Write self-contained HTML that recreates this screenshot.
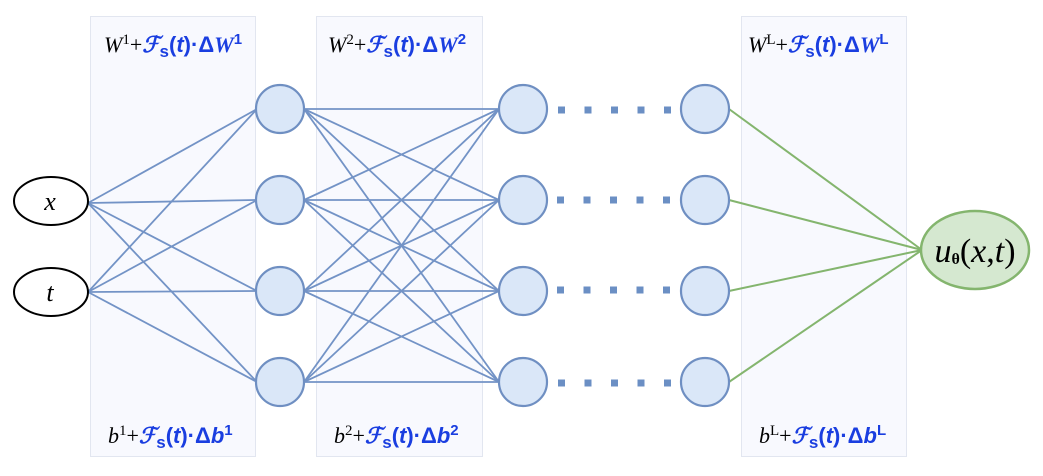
<!DOCTYPE html>
<html><head><meta charset="utf-8"><style>
body{margin:0;background:#fff;width:1043px;height:471px;overflow:hidden}
svg text{font-family:"Liberation Serif",serif}
</style></head><body>
<svg width="1043" height="471" xmlns="http://www.w3.org/2000/svg">
<rect x="90.5" y="16.5" width="165" height="440" fill="#f8f9fe" stroke="#e2e6f0"/>
<rect x="316.5" y="16.5" width="166" height="440" fill="#f8f9fe" stroke="#e2e6f0"/>
<rect x="741.5" y="16.5" width="165" height="440" fill="#f8f9fe" stroke="#e2e6f0"/>
<g stroke="#7393c6" stroke-width="1.8">
<line x1="88" y1="203" x2="257" y2="109"/><line x1="88" y1="203" x2="257" y2="200"/><line x1="88" y1="203" x2="257" y2="291"/><line x1="88" y1="203" x2="257" y2="382"/>
<line x1="88" y1="292" x2="257" y2="109"/><line x1="88" y1="292" x2="257" y2="200"/><line x1="88" y1="292" x2="257" y2="291"/><line x1="88" y1="292" x2="257" y2="382"/>
<line x1="304" y1="109" x2="499" y2="109"/><line x1="304" y1="109" x2="499" y2="200"/><line x1="304" y1="109" x2="499" y2="291"/><line x1="304" y1="109" x2="499" y2="382"/>
<line x1="304" y1="200" x2="499" y2="109"/><line x1="304" y1="200" x2="499" y2="200"/><line x1="304" y1="200" x2="499" y2="291"/><line x1="304" y1="200" x2="499" y2="382"/>
<line x1="304" y1="291" x2="499" y2="109"/><line x1="304" y1="291" x2="499" y2="200"/><line x1="304" y1="291" x2="499" y2="291"/><line x1="304" y1="291" x2="499" y2="382"/>
<line x1="304" y1="382" x2="499" y2="109"/><line x1="304" y1="382" x2="499" y2="200"/><line x1="304" y1="382" x2="499" y2="291"/><line x1="304" y1="382" x2="499" y2="382"/>
</g>
<g stroke="#84b56e" stroke-width="2">
<line x1="729" y1="109" x2="922" y2="250"/><line x1="729" y1="200" x2="922" y2="250"/><line x1="729" y1="291" x2="922" y2="250"/><line x1="729" y1="382" x2="922" y2="250"/>
</g>
<g fill="#dae7f8" stroke="#6f8fc2" stroke-width="2.2">
<circle cx="280" cy="109" r="24"/><circle cx="280" cy="200" r="24"/><circle cx="280" cy="291" r="24"/><circle cx="280" cy="382" r="24"/>
<circle cx="523" cy="109" r="24"/><circle cx="523" cy="200" r="24"/><circle cx="523" cy="291" r="24"/><circle cx="523" cy="382" r="24"/>
<circle cx="705" cy="109" r="24"/><circle cx="705" cy="200" r="24"/><circle cx="705" cy="291" r="24"/><circle cx="705" cy="382" r="24"/>
</g>
<g stroke="#6b8fc4" stroke-width="7" stroke-dasharray="7 19.5">
<line x1="558" y1="110" x2="675" y2="110"/><line x1="557" y1="200" x2="675" y2="200"/><line x1="557" y1="290" x2="675" y2="290"/><line x1="558" y1="383" x2="675" y2="383"/>
</g>
<ellipse cx="51" cy="201" rx="37" ry="24" fill="#fff" stroke="#000" stroke-width="2"/>
<ellipse cx="51" cy="292" rx="37" ry="24" fill="#fff" stroke="#000" stroke-width="2"/>
<text x="50" y="210" font-size="26" font-style="italic" text-anchor="middle">x</text>
<text x="50" y="301" font-size="26" font-style="italic" text-anchor="middle">t</text>
<ellipse cx="975" cy="250" rx="54" ry="39" fill="#d5e8d0" stroke="#84b56e" stroke-width="2.5"/>
<text x="975" y="262" font-size="34" text-anchor="middle"><tspan font-style="italic">u</tspan><tspan font-size="16" font-weight="bold" dy="2">θ</tspan><tspan dy="-2">(</tspan><tspan font-style="italic">x</tspan>,<tspan font-style="italic">t</tspan>)</text>
<g font-size="22">
<text x="104" y="52"><tspan font-style="italic">W</tspan><tspan font-size="15" dy="-8">1</tspan><tspan dy="8">+</tspan><tspan fill="#1a3ee0" font-weight="bold" font-family="Liberation Sans"><tspan font-style="italic">ℱ</tspan><tspan font-size="17" dy="5">s</tspan><tspan dy="-5">(</tspan><tspan font-style="italic">t</tspan>)·Δ<tspan font-style="italic" font-family="Liberation Serif">W</tspan><tspan font-size="15" dy="-8">1</tspan></tspan></text>
<text x="328" y="52"><tspan font-style="italic">W</tspan><tspan font-size="15" dy="-8">2</tspan><tspan dy="8">+</tspan><tspan fill="#1a3ee0" font-weight="bold" font-family="Liberation Sans"><tspan font-style="italic">ℱ</tspan><tspan font-size="17" dy="5">s</tspan><tspan dy="-5">(</tspan><tspan font-style="italic">t</tspan>)·Δ<tspan font-style="italic" font-family="Liberation Serif">W</tspan><tspan font-size="15" dy="-8">2</tspan></tspan></text>
<text x="748" y="52"><tspan font-style="italic">W</tspan><tspan font-size="15" dy="-8">L</tspan><tspan dy="8">+</tspan><tspan fill="#1a3ee0" font-weight="bold" font-family="Liberation Sans"><tspan font-style="italic">ℱ</tspan><tspan font-size="17" dy="5">s</tspan><tspan dy="-5">(</tspan><tspan font-style="italic">t</tspan>)·Δ<tspan font-style="italic" font-family="Liberation Serif">W</tspan><tspan font-size="15" dy="-8">L</tspan></tspan></text>
<text x="108" y="443"><tspan font-style="italic">b</tspan><tspan font-size="15" dy="-8">1</tspan><tspan dy="8">+</tspan><tspan fill="#1a3ee0" font-weight="bold" font-family="Liberation Sans"><tspan font-style="italic">ℱ</tspan><tspan font-size="17" dy="5">s</tspan><tspan dy="-5">(</tspan><tspan font-style="italic">t</tspan>)·Δ<tspan font-style="italic">b</tspan><tspan font-size="15" dy="-8">1</tspan></tspan></text>
<text x="334" y="443"><tspan font-style="italic">b</tspan><tspan font-size="15" dy="-8">2</tspan><tspan dy="8">+</tspan><tspan fill="#1a3ee0" font-weight="bold" font-family="Liberation Sans"><tspan font-style="italic">ℱ</tspan><tspan font-size="17" dy="5">s</tspan><tspan dy="-5">(</tspan><tspan font-style="italic">t</tspan>)·Δ<tspan font-style="italic">b</tspan><tspan font-size="15" dy="-8">2</tspan></tspan></text>
<text x="759" y="443"><tspan font-style="italic">b</tspan><tspan font-size="15" dy="-8">L</tspan><tspan dy="8">+</tspan><tspan fill="#1a3ee0" font-weight="bold" font-family="Liberation Sans"><tspan font-style="italic">ℱ</tspan><tspan font-size="17" dy="5">s</tspan><tspan dy="-5">(</tspan><tspan font-style="italic">t</tspan>)·Δ<tspan font-style="italic">b</tspan><tspan font-size="15" dy="-8">L</tspan></tspan></text>
</g>
</svg>
</body></html>
